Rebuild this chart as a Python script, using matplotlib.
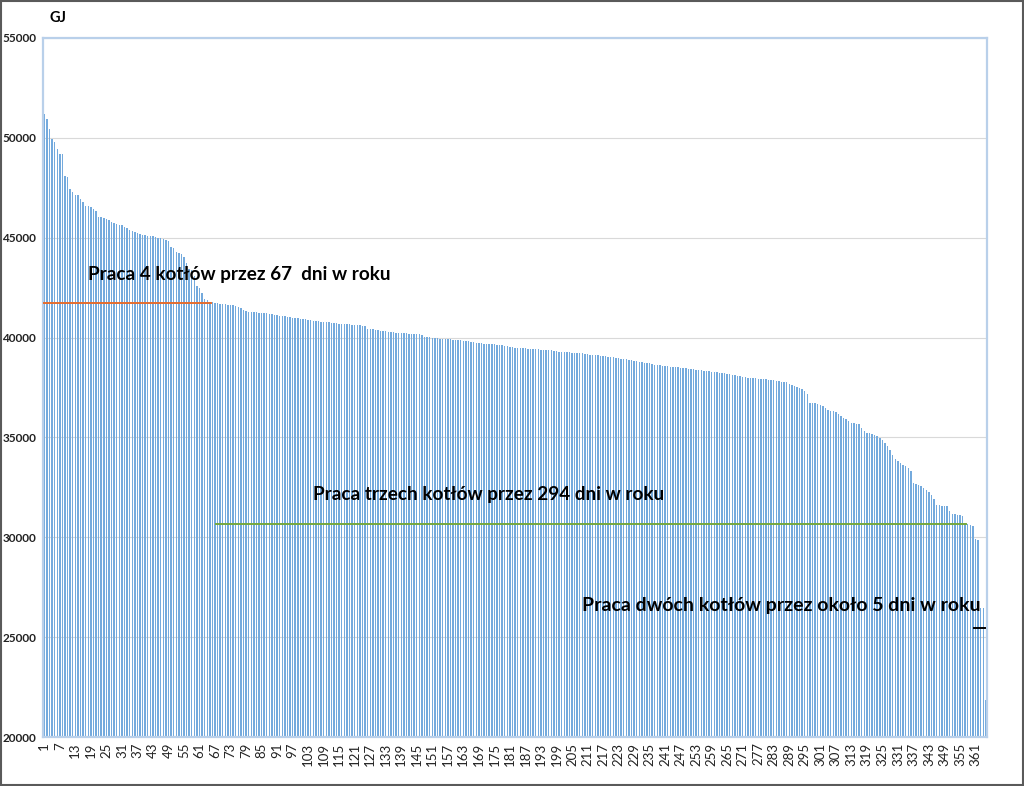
import matplotlib
matplotlib.use("Agg")
import matplotlib.pyplot as plt
from matplotlib.patches import Rectangle
import numpy as np

plt.rcParams['font.family'] = ['Lato', 'DejaVu Sans']

# Daily heat demand sorted descending (GJ), days 1..365
heat_gj = [
    51190, 50940, 50440, 49940, 49790, 49440, 49190, 49190, 48100, 48030,
    47430, 47280, 47150, 47150, 46930, 46780, 46580, 46580, 46530, 46430,
    46340, 46030, 46030, 46000, 45930, 45900, 45780, 45760, 45680, 45660,
    45640, 45530, 45500, 45400, 45350, 45300, 45250, 45200, 45150, 45130,
    45100, 45080, 45060, 45050, 45000, 44980, 44950, 44900, 44850, 44520,
    44480, 44280, 44230, 44180, 44050, 43750, 43450, 43380, 43080, 42600,
    42500, 42250, 41950, 41900, 41800, 41760, 41740,
    41720, 41700, 41680, 41660, 41650, 41630, 41610, 41580, 41520, 41480,
    41400, 41330, 41300, 41280, 41270, 41260, 41240, 41230, 41220, 41210,
    41190, 41170, 41150, 41120, 41100, 41080, 41060, 41040, 41020, 41000,
    40980, 40970, 40950, 40930, 40910, 40890, 40870, 40850, 40830, 40820,
    40800, 40790, 40780, 40760, 40740, 40720, 40710, 40700, 40690, 40680,
    40670, 40660, 40650, 40640, 40630, 40620, 40600, 40560, 40450, 40430,
    40410, 40390, 40370, 40350, 40330, 40310, 40290, 40280, 40260, 40250,
    40240, 40230, 40220, 40210, 40200, 40190, 40180, 40170, 40160, 40120,
    40040, 40030, 40010, 39990, 39980, 39960, 39950, 39940, 39930, 39920,
    39910, 39900, 39890, 39870, 39860, 39840, 39830, 39810, 39790, 39760,
    39740, 39720, 39710, 39700, 39690, 39680, 39670, 39660, 39650, 39640,
    39620, 39600, 39570, 39540, 39510, 39500, 39490, 39480, 39470, 39460,
    39450, 39450, 39440, 39430, 39420, 39400, 39390, 39380, 39370, 39360,
    39340, 39320, 39300, 39290, 39280, 39270, 39260, 39250, 39240, 39230,
    39220, 39210, 39190, 39170, 39150, 39140, 39120, 39110, 39100, 39080,
    39060, 39050, 39030, 39010, 38990, 38970, 38950, 38930, 38910, 38890,
    38870, 38850, 38820, 38800, 38780, 38750, 38730, 38710, 38680, 38650,
    38630, 38610, 38590, 38570, 38560, 38550, 38540, 38530, 38510, 38500,
    38490, 38470, 38450, 38430, 38410, 38390, 38380, 38360, 38350, 38330,
    38320, 38300, 38290, 38270, 38250, 38230, 38210, 38190, 38170, 38150,
    38120, 38090, 38060, 38030, 38010, 38000, 37990, 37970, 37960, 37950,
    37940, 37930, 37920, 37900, 37880, 37860, 37840, 37820, 37800, 37780,
    37760, 37700, 37650, 37580, 37520, 37490, 37440, 37330, 37150, 36730,
    36720, 36700, 36680, 36620, 36560, 36480, 36380, 36310, 36300, 36260,
    36150, 36050, 35950, 35900, 35800, 35720, 35700, 35660, 35650, 35450,
    35300, 35230, 35200, 35150, 35100, 35050, 34980, 34850, 34730, 34560,
    34390, 34100, 33900, 33810, 33700, 33640, 33560, 33470, 33300, 32720,
    32680, 32600, 32550, 32450, 32390, 32250, 32140, 31900, 31630, 31600,
    31580, 31570, 31550, 31300, 31180, 31150, 31130, 31120, 31050, 30700,
    30680, 30600, 30580, 29910, 29880, 26470, 26450, 21860,
]
days = list(range(1, len(heat_gj) + 1))
tick_days = list(range(1, 366, 6))
y_ticks = [20000, 25000, 30000, 35000, 40000, 45000, 50000, 55000]

# Boiler operation levels (GJ) and day ranges
four_boilers_level = 41740
four_boilers_days = (1, 65)
three_boilers_level = 30680
three_boilers_days = (68, 357)
two_boilers_level = 25470
two_boilers_days = (361, 364)

label_four = "Praca 4 kotłów przez 67  dni w roku"
label_three = "Praca trzech kotłów przez 294 dni w roku"
label_two = "Praca dwóch kotłów przez około 5 dni w roku"

fig = plt.figure(figsize=(10.24, 7.86), dpi=100)
ax = fig.add_axes([0.042, 0.0623, 0.922, 0.8894])

ax.bar(days, heat_gj, width=0.55, color='#74AADD', edgecolor='none', zorder=2)

ax.set_xlim(0.5, len(heat_gj) + 0.5)
ax.set_ylim(20000, 55000)
ax.set_yticks(y_ticks)
ax.set_yticklabels([str(v) for v in y_ticks], fontsize=8.5, fontweight='bold')
ax.set_xticks(tick_days)
ax.set_xticklabels([str(d) for d in tick_days], rotation=90, fontsize=9.5)
ax.tick_params(axis='both', length=0, colors='#222222')
ax.tick_params(axis='y', pad=5)
ax.tick_params(axis='x', pad=4)
ax.grid(axis='y', color='#D9D9D9', linewidth=0.8, zorder=0)
ax.set_axisbelow(True)
for s in ax.spines.values():
    s.set_color('#B9D0EA')
    s.set_linewidth(1.6)

ax.plot([four_boilers_days[0] - 0.5, four_boilers_days[1] + 0.5],
        [four_boilers_level] * 2, color='#E46C2E', lw=1.4, zorder=3)
ax.plot([three_boilers_days[0] - 0.5, three_boilers_days[1] + 0.5],
        [three_boilers_level] * 2, color='#77A83C', lw=1.4, zorder=3)
ax.plot([two_boilers_days[0] - 0.5, two_boilers_days[1] + 0.5],
        [two_boilers_level] * 2, color='black', lw=1.4, zorder=3)

ax.text(17.9, 43170, label_four, fontsize=13.6, fontweight='bold', va='center', ha='left', zorder=4)
ax.text(104.9, 32140, label_three, fontsize=13.6, fontweight='bold', va='center', ha='left', zorder=4)
ax.text(208.9, 26570, label_two, fontsize=14, fontweight='bold', va='center', ha='left', zorder=4)

fig.text(0.048, 0.977, "GJ", fontsize=10.5, fontweight='bold', va='center', ha='left')

fig.patches.append(Rectangle((0.001, 0.001), 0.998, 0.998, transform=fig.transFigure,
                             fill=False, edgecolor='#5A5A5A', linewidth=1.5))

fig.savefig("out.png", dpi=100)
